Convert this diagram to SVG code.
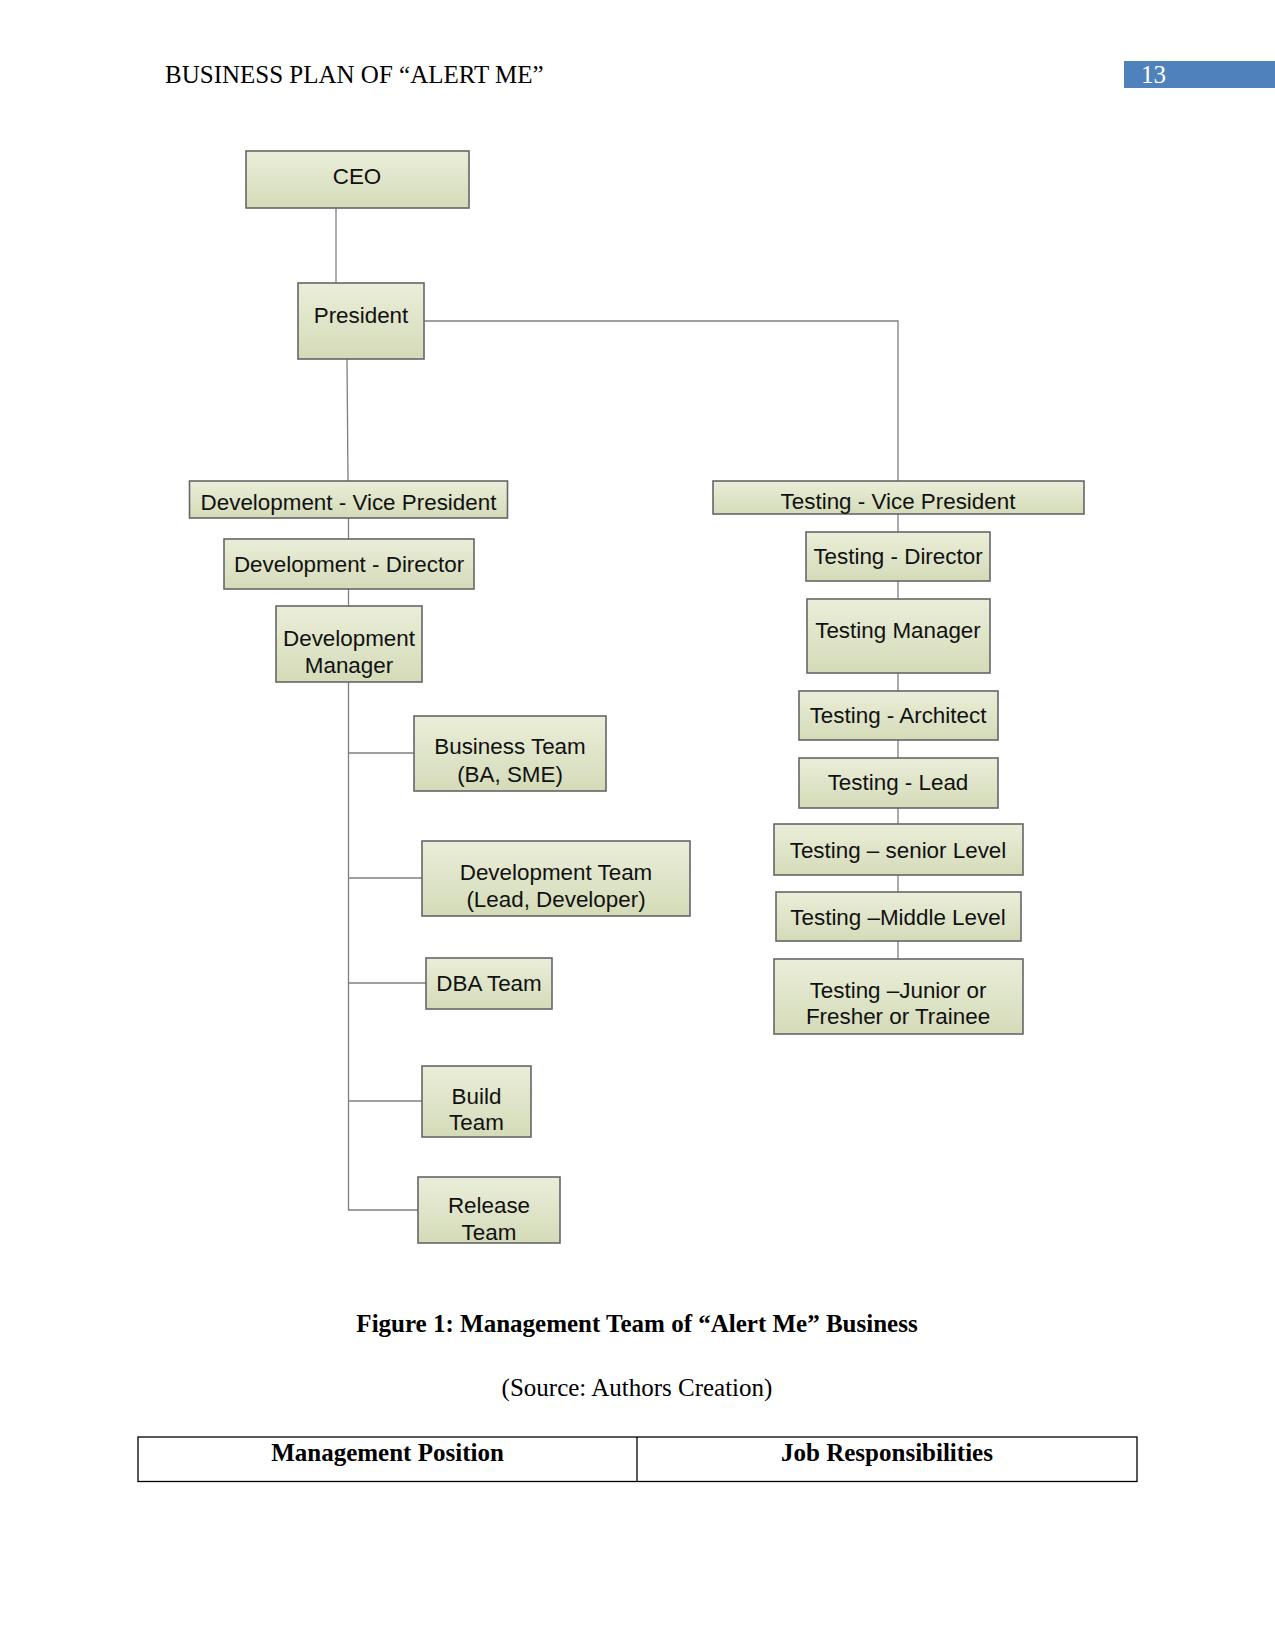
<svg xmlns="http://www.w3.org/2000/svg" width="1275" height="1651" viewBox="0 0 1275 1651">
<defs>
<linearGradient id="g" x1="0" y1="0" x2="0" y2="1">
<stop offset="0" stop-color="#eaeed9"/>
<stop offset="1" stop-color="#d4dbb8"/>
</linearGradient>
<style>
.box{fill:url(#g);stroke:#666;stroke-width:1.6}
.t{font-family:"Liberation Sans",Arial,sans-serif;font-size:22.4px;fill:#111;text-anchor:middle}
.c{fill:none;stroke:#7f7f7f;stroke-width:1.3}
.s{font-family:"Liberation Serif","Times New Roman",serif;font-size:25px;fill:#000}
</style>
</defs>
<rect width="1275" height="1651" fill="#fff"/>
<text class="s" x="165" y="83">BUSINESS PLAN OF “ALERT ME”</text>
<rect x="1124" y="61" width="151" height="27" fill="#4f81bd"/>
<text class="s" x="1141" y="83" style="fill:#fff">13</text>

<g id="connectors">
<line class="c" x1="336" y1="208" x2="336" y2="283"/>
<polyline class="c" points="424,321 898,321 898,481"/>
<line class="c" x1="347" y1="359" x2="348" y2="481"/>
<line class="c" x1="348.5" y1="518" x2="348.5" y2="539"/>
<line class="c" x1="348.5" y1="589" x2="348.5" y2="606"/>
<polyline class="c" points="348.5,682 348.5,1210 418,1210"/>
<line class="c" x1="348.5" y1="753" x2="414" y2="753"/>
<line class="c" x1="348.5" y1="878" x2="422" y2="878"/>
<line class="c" x1="348.5" y1="983" x2="426" y2="983"/>
<line class="c" x1="348.5" y1="1101" x2="422" y2="1101"/>
<line class="c" x1="898" y1="514" x2="898" y2="959"/>
</g>

<g id="ceo"><rect class="box" x="246" y="151" width="223" height="57"/><text class="t" x="357" y="184">CEO</text></g>
<g id="president"><rect class="box" x="298" y="283" width="126" height="76"/><text class="t" x="361" y="323">President</text></g>

<g id="dev-vp"><rect class="box" x="189.5" y="481" width="318" height="37"/><text class="t" x="348.5" y="510">Development - Vice President</text></g>
<g id="dev-director"><rect class="box" x="224" y="539" width="250" height="50"/><text class="t" x="349" y="572">Development - Director</text></g>
<g id="dev-manager"><rect class="box" x="276" y="606" width="146" height="76"/><text class="t" x="349" y="646">Development</text><text class="t" x="349" y="673">Manager</text></g>
<g id="business-team"><rect class="box" x="414" y="716" width="192" height="75"/><text class="t" x="510" y="754">Business Team</text><text class="t" x="510" y="782">(BA, SME)</text></g>
<g id="development-team"><rect class="box" x="422" y="841" width="268" height="75"/><text class="t" x="556" y="880">Development Team</text><text class="t" x="556" y="907">(Lead, Developer)</text></g>
<g id="dba-team"><rect class="box" x="426" y="958" width="126" height="51"/><text class="t" x="489" y="991">DBA Team</text></g>
<g id="build-team"><rect class="box" x="422" y="1066" width="109" height="71"/><text class="t" x="476.5" y="1104">Build</text><text class="t" x="476.5" y="1130">Team</text></g>
<g id="release-team"><rect class="box" x="418" y="1177" width="142" height="66"/><text class="t" x="489" y="1213">Release</text><text class="t" x="489" y="1240">Team</text></g>

<g id="testing-vp"><rect class="box" x="713" y="481" width="371" height="33"/><text class="t" x="898" y="509">Testing - Vice President</text></g>
<g id="testing-director"><rect class="box" x="806" y="532" width="184" height="49"/><text class="t" x="898" y="564">Testing - Director</text></g>
<g id="testing-manager"><rect class="box" x="807" y="599" width="183" height="74"/><text class="t" x="898" y="638">Testing Manager</text></g>
<g id="testing-architect"><rect class="box" x="799" y="691" width="199" height="49"/><text class="t" x="898" y="723">Testing - Architect</text></g>
<g id="testing-lead"><rect class="box" x="799" y="758" width="199" height="50"/><text class="t" x="898" y="790">Testing - Lead</text></g>
<g id="testing-senior"><rect class="box" x="774" y="824" width="249" height="51"/><text class="t" x="898" y="858">Testing – senior Level</text></g>
<g id="testing-middle"><rect class="box" x="776" y="892" width="245" height="49"/><text class="t" x="898" y="925">Testing –Middle Level</text></g>
<g id="testing-junior"><rect class="box" x="774" y="959" width="249" height="75"/><text class="t" x="898" y="998">Testing –Junior or</text><text class="t" x="898" y="1024">Fresher or Trainee</text></g>

<text class="s" x="637" y="1332" text-anchor="middle" font-weight="bold">Figure 1: Management Team of “Alert Me” Business</text>
<text class="s" x="637" y="1396" text-anchor="middle">(Source: Authors Creation)</text>
<g id="table">
<rect x="138" y="1437" width="999" height="44.5" fill="none" stroke="#000" stroke-width="1.3"/>
<line x1="637" y1="1437" x2="637" y2="1481.5" stroke="#000" stroke-width="1.3"/>
<text class="s" x="387.5" y="1461" text-anchor="middle" font-weight="bold">Management Position</text>
<text class="s" x="887" y="1461" text-anchor="middle" font-weight="bold">Job Responsibilities</text>
</g>
</svg>
